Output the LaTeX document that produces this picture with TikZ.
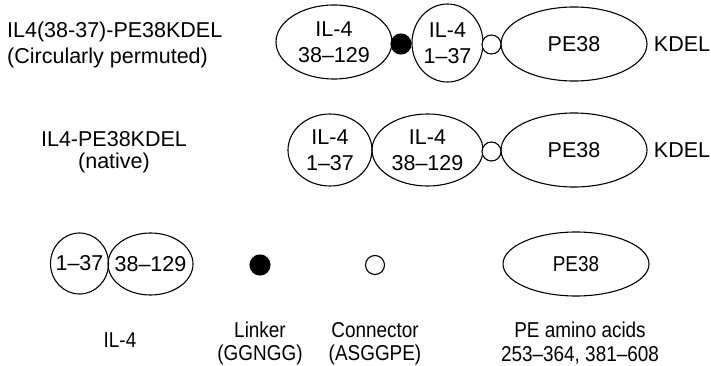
\documentclass[tikz,border=0pt]{standalone}
\usepackage{fontspec}
\setmainfont{Liberation Sans}
\newfontfamily\narrowfont[FakeStretch=0.88,Ligatures=TeX]{Liberation Sans}
\usetikzlibrary{shapes.geometric}
\begin{document}
\begin{tikzpicture}[x=1pt,y=-1pt,
  dom/.style={ellipse,draw,line width=1.1pt,inner sep=0pt},
  linkdot/.style={circle,draw,fill=black,line width=1.1pt,inner sep=0pt,minimum size=20pt},
  condot/.style={circle,draw,fill=white,line width=1.1pt,inner sep=0pt,minimum size=19pt},
  lbl/.style={inner sep=0pt,align=center,font=\fontsize{21.5}{26}\selectfont},
  blbl/.style={inner sep=0pt,align=center,font=\narrowfont\fontsize{21.5}{24}\selectfont}]
\useasboundingbox (0,0) rectangle (711,366);
% row 1
\node[dom,minimum width=116pt,minimum height=74pt] (a) at (334,42) {};
\node[dom,minimum width=71pt,minimum height=78pt] (b) at (447.5,43) {};
\node[dom,minimum width=146pt,minimum height=74pt] (c) at (574,44) {};
\node[lbl] (at) at (a.center) {IL-4\\38–129};
\node[lbl] (bt) at (b.center) {IL-4\\1–37};
\node[lbl] (ct) at (c.center) {PE38};
\node[linkdot] (l1) at (401,44) {};
\node[condot] (c1) at (491.5,44.5) {};
\node[lbl] (k1) at (682,44) {KDEL};
\node[lbl,anchor=west] (t1) at (7,32) {IL4(38-37)-PE38KDEL};
\node[lbl,anchor=west] (t2) at (7,58) {(Circularly permuted)};
% row 2
\node[dom,minimum width=84pt,minimum height=72pt] (d) at (330,150) {};
\node[dom,minimum width=111pt,minimum height=72pt] (e) at (427.5,150) {};
\node[dom,minimum width=146pt,minimum height=74pt] (f) at (574,150) {};
\node[lbl] (dt) at (d.center) {IL-4\\1–37};
\node[lbl] (et) at (e.center) {IL-4\\38–129};
\node[lbl] (ft) at (f.center) {PE38};
\node[condot] (c2) at (491.5,151.5) {};
\node[lbl] (k2) at (682,150) {KDEL};
\node[lbl] (t3) at (114,139.5) {IL4-PE38KDEL};
\node[lbl] (t4) at (114,163) {(native)};
% row 3
\node[dom,minimum width=58pt,minimum height=61pt] (g) at (79.5,263.5) {};
\node[dom,minimum width=85pt,minimum height=62pt] (h) at (150.5,264) {};
\node[lbl] (gt) at (g.center) {1–37};
\node[lbl] (ht) at (h.center) {38–129};
\node[linkdot] (l3) at (260,265) {};
\node[condot] (c3) at (375,265) {};
\node[dom,minimum width=146pt,minimum height=64pt] (i) at (576,264) {};
\node[blbl] (it) at (i.center) {PE38};
% bottom labels
\node[blbl] (b1) at (120,340) {IL-4};
\node[blbl] (b2) at (260,330) {Linker};
\node[blbl] (b3) at (260,355) {(GGNGG)};
\node[blbl] (b4) at (375,330) {Connector};
\node[blbl] (b5) at (375,355) {(ASGGPE)};
\node[blbl] (b6) at (580,330) {PE amino acids};
\node[blbl] (b7) at (580,355) {253–364, 381–608};
\end{tikzpicture}
\end{document}
